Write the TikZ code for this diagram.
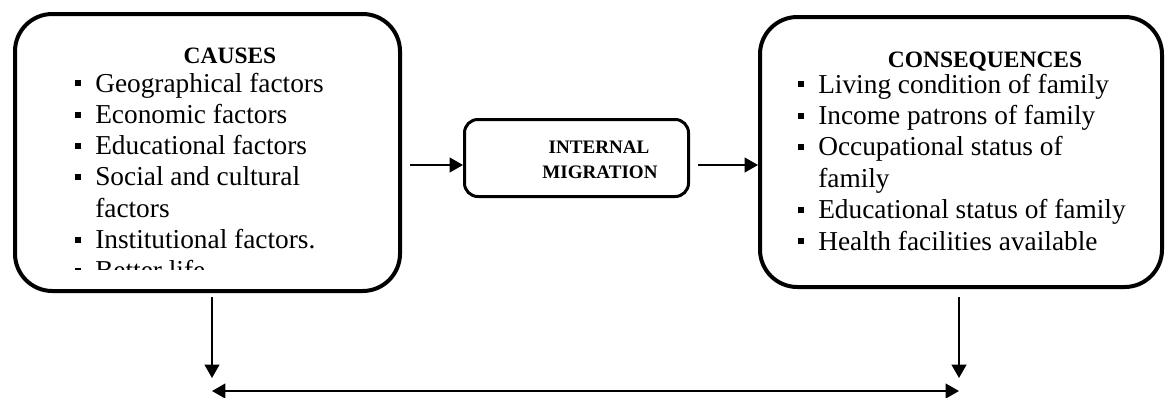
\documentclass[tikz,border=0pt]{standalone}
\usepackage{fontspec}
\setmainfont{Liberation Serif}
\usetikzlibrary{arrows.meta,positioning,calc}
\newcommand{\sqbul}{\makebox[15pt][l]{\rule[4.2pt]{4.5pt}{4.5pt}}}
\newcommand{\sqgap}{\hspace*{15pt}}
\tikzset{
  roundbox/.style={draw, line width=3pt, rounded corners=28pt, inner sep=0pt},
  migbox/.style={draw, line width=2.25pt, rounded corners=10pt,
    minimum width=168pt, minimum height=57.75pt, inner sep=0pt},
  headtxt/.style={anchor=base, inner sep=0pt, font=\fontsize{17.6}{20}\selectfont\bfseries},
  itemtxt/.style={anchor=base west, inner sep=0pt, font=\fontsize{20.5}{23}\selectfont},
  migtxt/.style={anchor=base, inner sep=0pt, font=\fontsize{14.3}{17}\selectfont\bfseries},
  thinarr/.style={-{Triangle[length=10pt,width=11pt]}, line width=1.5pt},
  dblarr/.style={{Triangle[length=10pt,width=11pt]}-{Triangle[length=10pt,width=11pt]}, line width=1.5pt},
}

\begin{document}
\begin{tikzpicture}[x=0.75pt,y=-0.75pt]
  \useasboundingbox (0,0) rectangle (1166,397);

  % the three boxes
  \node[roundbox, minimum width=288.75pt, minimum height=207.75pt] (causes) at (207.5,152.5) {};
  \node[roundbox, minimum width=301.5pt, minimum height=202.5pt] (cons) at (961,152) {};
  \node[migbox] (mig) at (576.5,158) {};

  \node[headtxt] (ctitle) at (230,63) {CAUSES};
  \node[headtxt] (qtitle) at (985,67) {CONSEQUENCES};
  \node[migtxt] (mig1) at (599,153) {INTERNAL};
  \node[migtxt] (mig2) at (600,178) {MIGRATION};

  % causes list, last line cut off by the box
  \begin{scope}
    \clip (15,14) rectangle (400,269);
    \foreach \bu/\tx [count=\i from 0] in {\sqbul/Geographical factors, \sqbul/Economic factors,
        \sqbul/Educational factors, \sqbul/Social and cultural, \sqgap/factors,
        \sqbul/Institutional factors., \sqbul/Better life}
      \node[itemtxt] (c\i) at (75,92+31.3*\i) {\bu\tx};
  \end{scope}

  % consequences list
  \foreach \bu/\tx [count=\i from 0] in {\sqbul/Living condition of family, \sqbul/Income patrons of family,
      \sqbul/Occupational status of, \sqgap/family, \sqbul/Educational status of family,
      \sqbul/Health facilities available}
    \node[itemtxt] (q\i) at (798,93+31.4*\i) {\bu\tx};

  % connectors
  \coordinate (inA) at (410,165);
  \coordinate (endL) at (212,391);
  \coordinate (endR) at (959,391);
  \draw[thinarr] (inA) -- (inA -| mig.west);
  \draw[thinarr] ([xshift=6pt]mig.east |- inA) -- (inA -| cons.west);
  \draw[thinarr] ($(causes.south -| endL)+(0,4)$) -- ([yshift=9.75pt]endL);
  \draw[thinarr] ($(cons.south -| endR)+(0,8)$) -- ([yshift=9.75pt]endR);
  \draw[dblarr] (endL) -- (endR);
\end{tikzpicture}
\end{document}
